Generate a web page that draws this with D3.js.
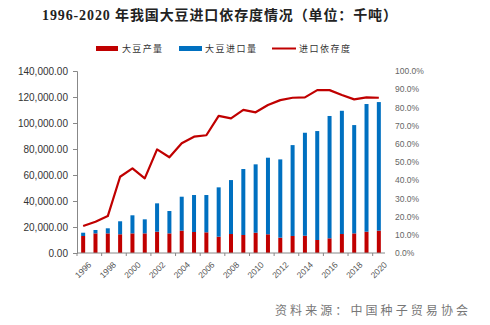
<!DOCTYPE html>
<html>
<head>
<meta charset="utf-8">
<script src="https://cdn.jsdelivr.net/npm/d3@7"></script>
<style>
  body { margin: 0; background: #fff; }
  svg { display: block; }
</style>
</head>
<body>
<script>
var w = 490, h = 325;

// 年份
var years = d3.range(1996, 2021).map(String);
// 大豆产量（千吨）
var production = [13070, 15100, 15100, 14400, 15100, 15100, 16400, 15100, 17200, 16150,
  15900, 12550, 14600, 13840, 15600, 14400, 11800, 13100, 13300, 10000,
  11300, 14600, 15100, 16400, 17200];
// 大豆进口量（千吨）
var imports = [2530, 2600, 3900, 10000, 13900, 10800, 21800, 17200, 26100, 28450,
  28700, 37950, 41500, 50760, 52600, 58900, 60200, 69900, 79200, 83800,
  94100, 94800, 83300, 98200, 98900];
// 进口依存度（%）
var dependence = [14.8, 17.2, 20.3, 41.9, 46.5, 41.0, 56.9, 52.6, 60.3, 63.9,
  64.7, 75.3, 74.0, 78.6, 77.3, 81.3, 84.0, 85.3, 85.5, 89.5,
  89.5, 86.8, 84.4, 85.5, 85.3];

var leftTicks = [0, 20000, 40000, 60000, 80000, 100000, 120000, 140000];
var rightTicks = [0, 10, 20, 30, 40, 50, 60, 70, 80, 90, 100];
var yearLabels = years.filter(function (d, i) { return i % 2 === 0; });

var red = '#c00000', blue = '#0070c0';
var cjk = '"Liberation Serif", "Noto Sans CJK SC", serif';

var plot = { left: 77, right: 385, top: 71, bottom: 253 };

var svg = d3.select('body').append('svg').attr('width', w).attr('height', h);

var x = d3.scaleBand().domain(years).range([plot.left, plot.right]);
var y = d3.scaleLinear().domain([0, 140000]).range([plot.bottom, plot.top]);
var y2 = d3.scaleLinear().domain([0, 100]).range([plot.bottom, plot.top]);

// 标题
svg.append('text')
  .attr('x', 42).attr('y', 20)
  .attr('textLength', 355).attr('lengthAdjust', 'spacing')
  .style('font-family', cjk).style('font-size', '14px').style('font-weight', 'bold')
  .style('fill', '#222')
  .text('1996-2020 年我国大豆进口依存度情况（单位：千吨）');

// 图例
var legend = svg.append('g').style('font-family', cjk).style('font-size', '9px').style('fill', '#333');
legend.append('rect').attr('x', 96).attr('y', 46).attr('width', 22).attr('height', 5).attr('fill', red);
legend.append('text').attr('x', 122).attr('y', 52).attr('textLength', 40).text('大豆产量');
legend.append('rect').attr('x', 179).attr('y', 46).attr('width', 23).attr('height', 5).attr('fill', blue);
legend.append('text').attr('x', 205).attr('y', 52).attr('textLength', 51).text('大豆进口量');
legend.append('line').attr('x1', 272).attr('x2', 296).attr('y1', 48.5).attr('y2', 48.5)
  .attr('stroke', red).attr('stroke-width', 2);
legend.append('text').attr('x', 299).attr('y', 52).attr('textLength', 51).text('进口依存度');

// 柱子（堆叠）
var bw = 4;
var bars = svg.append('g');
bars.selectAll('rect.prod')
  .data(years)
  .enter()
  .append('rect')
  .attr('class', 'prod')
  .attr('x', function (d) { return x(d) + x.bandwidth() / 2 - bw / 2; })
  .attr('y', function (d, i) { return y(production[i]); })
  .attr('width', bw)
  .attr('height', function (d, i) { return y(0) - y(production[i]); })
  .attr('fill', red);
bars.selectAll('rect.imp')
  .data(years)
  .enter()
  .append('rect')
  .attr('class', 'imp')
  .attr('x', function (d) { return x(d) + x.bandwidth() / 2 - bw / 2; })
  .attr('y', function (d, i) { return y(production[i] + imports[i]); })
  .attr('width', bw)
  .attr('height', function (d, i) { return y(production[i]) - y(production[i] + imports[i]); })
  .attr('fill', blue);

// 左轴
var fmt = d3.format(',.2f');
var leftAxis = svg.append('g')
  .attr('transform', 'translate(' + plot.left + ',0)')
  .call(d3.axisLeft(y).tickValues(leftTicks).tickSize(4).tickPadding(5)
    .tickFormat(function (d) { return fmt(d); }));
leftAxis.select('.domain').attr('stroke', '#888');
leftAxis.selectAll('.tick line').attr('stroke', '#888');
leftAxis.selectAll('text')
  .style('font-family', '"Liberation Sans", Arial, sans-serif')
  .style('font-size', '10px').style('fill', '#333');

// 右轴
var rightAxis = svg.append('g')
  .attr('transform', 'translate(' + 392 + ',0)')
  .call(d3.axisRight(y2).tickValues(rightTicks).tickSize(0).tickPadding(3)
    .tickFormat(function (d) { return d3.format('.1f')(d) + '%'; }));
rightAxis.select('.domain').remove();
rightAxis.selectAll('text')
  .style('font-family', '"Liberation Sans", Arial, sans-serif')
  .style('font-size', '8.5px').style('fill', '#666');

// x轴
svg.append('line')
  .attr('x1', plot.left).attr('x2', plot.right)
  .attr('y1', plot.bottom).attr('y2', plot.bottom)
  .attr('stroke', '#888');
svg.selectAll('line.xtick')
  .data(yearLabels)
  .enter()
  .append('line')
  .attr('class', 'xtick')
  .attr('x1', function (d) { return x(d); })
  .attr('x2', function (d) { return x(d); })
  .attr('y1', plot.bottom).attr('y2', plot.bottom + 3)
  .attr('stroke', '#888');
svg.selectAll('text.xlab')
  .data(yearLabels)
  .enter()
  .append('text')
  .attr('class', 'xlab')
  .attr('transform', function (d) {
    return 'translate(' + (x(d) + x.bandwidth() / 2) + ',' + 270 + ') rotate(-45)';
  })
  .attr('text-anchor', 'middle')
  .attr('dy', '0.35em')
  .style('font-family', '"Liberation Sans", Arial, sans-serif')
  .style('font-size', '8.5px').style('fill', '#555')
  .text(function (d) { return d; });

// 依存度折线
var line = d3.line()
  .x(function (d, i) { return x(years[i]) + x.bandwidth() / 2; })
  .y(function (d) { return y2(d); });
svg.append('path')
  .datum(dependence)
  .attr('d', line)
  .attr('fill', 'none')
  .attr('stroke', red)
  .attr('stroke-width', 2.2)
  .attr('stroke-linejoin', 'round');

// 资料来源
svg.append('text')
  .attr('x', 275).attr('y', 315)
  .attr('textLength', 193).attr('lengthAdjust', 'spacing')
  .style('font-family', cjk).style('font-size', '12px').style('fill', '#777')
  .text('资料来源：中国种子贸易协会');
</script>
</body>
</html>
